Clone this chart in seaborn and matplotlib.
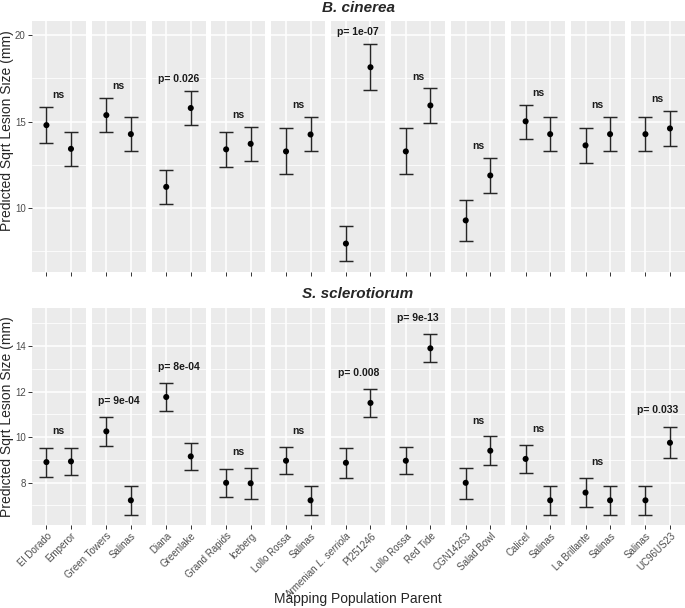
import numpy as np
import pandas as pd
import matplotlib
matplotlib.use("Agg")
import matplotlib.pyplot as plt
from matplotlib.ticker import FixedLocator
from matplotlib.transforms import ScaledTranslation
import seaborn as sns

# mapping population parents, one pair per panel
parent_a = ["El Dorado", "Green Towers", "Diana", "Grand Rapids", "Lollo Rossa",
            "Armenian L. serriola", "Lollo Rossa", "CGN14263", "Calicel", "La Brillante", "Salinas"]
parent_b = ["Emperor", "Salinas", "Greenlake", "Iceberg", "Salinas",
            "PI251246", "Red Tide", "Salad Bowl", "Salinas", "Salinas", "UC96US23"]

# B. cinerea
bc_mean_a = [14.80, 15.38, 11.23, 13.40, 13.28, 7.95, 13.28, 9.29, 15.02, 13.63, 14.28]
bc_lo_a = [13.78, 14.40, 10.23, 12.39, 11.97, 6.95, 11.97, 8.10, 14.01, 12.60, 13.28]
bc_hi_a = [15.85, 16.37, 12.22, 14.38, 14.61, 8.94, 14.61, 10.46, 15.98, 14.65, 15.27]
bc_mean_b = [13.43, 14.28, 15.79, 13.72, 14.26, 18.15, 15.94, 11.89, 14.28, 14.28, 14.61]
bc_lo_b = [12.45, 13.28, 14.80, 12.72, 13.28, 16.85, 14.94, 10.87, 13.28, 13.28, 13.59]
bc_hi_b = [14.42, 15.27, 16.79, 14.71, 15.27, 19.52, 16.93, 12.91, 15.27, 15.27, 15.61]
bc_pval = ["ns", "ns", "p= 0.026", "ns", "ns", "p= 1e-07", "ns", "ns", "ns", "ns", "ns"]
bc_pval_y = [16.52, 17.06, 17.45, 15.38, 15.94, 20.18, 17.60, 13.59, 16.68, 15.94, 16.33]

# S. sclerotiorum
ss_mean_a = [8.90, 10.25, 11.76, 7.99, 8.96, 8.87, 8.96, 7.99, 9.04, 7.56, 7.22]
ss_lo_a = [8.25, 9.60, 11.15, 7.37, 8.37, 8.22, 8.38, 7.29, 8.41, 6.91, 6.57]
ss_hi_a = [9.54, 10.88, 12.38, 8.59, 9.56, 9.51, 9.56, 8.66, 9.66, 8.22, 7.85]
ss_mean_b = [8.93, 7.22, 9.15, 7.97, 7.22, 11.50, 13.90, 9.40, 7.22, 7.22, 9.75]
ss_lo_b = [8.35, 6.57, 8.54, 7.28, 6.57, 10.90, 13.28, 8.79, 6.57, 6.57, 9.06]
ss_hi_b = [9.54, 7.85, 9.74, 8.63, 7.85, 12.10, 14.53, 10.03, 7.85, 7.85, 10.44]
ss_pval = ["ns", "p= 9e-04", "p= 8e-04", "ns", "ns", "p= 0.008", "p= 9e-13", "ns", "ns", "ns", "p= 0.033"]
ss_pval_y = [10.25, 11.60, 13.10, 9.34, 10.25, 12.82, 15.25, 10.72, 10.37, 8.91, 11.18]


def make_df(mean_a, lo_a, hi_a, mean_b, lo_b, hi_b):
    n = len(parent_a)
    return pd.DataFrame({
        "panel": list(range(n)) * 2,
        "pos": [0] * n + [1] * n,
        "parent": parent_a + parent_b,
        "mean": mean_a + mean_b,
        "lo": lo_a + lo_b,
        "hi": hi_a + hi_b,
    })


bc = make_df(bc_mean_a, bc_lo_a, bc_hi_a, bc_mean_b, bc_lo_b, bc_hi_b)
ss = make_df(ss_mean_a, ss_lo_a, ss_hi_a, ss_mean_b, ss_lo_b, ss_hi_b)

sns.set_theme(style="darkgrid")
plt.rcParams['font.family'] = ['Liberation Sans', 'DejaVu Sans']

W, H = 685, 608
fig = plt.figure(figsize=(W / 100, H / 100), dpi=100)
renderer = fig.canvas.get_renderer()

TICK_FS = 7.0
TICK_PAD = 1.5
TICK_OFF = (2.75 + TICK_PAD) / 72  # tick length + pad, inches


def species_label(ax, x, upright, italic):
    # "Armenian" upright followed by italic "L. serriola", laid out along 45 degrees
    base = ax.get_xaxis_transform()
    kw = dict(rotation=45, ha="right", va="top", rotation_mode="anchor",
              fontsize=TICK_FS, color="#4D4D4D")
    ax.text(x, 0, italic, fontstyle="italic",
            transform=base + ScaledTranslation(0, -TICK_OFF, fig.dpi_scale_trans), **kw)
    tmp = fig.text(0, 0, italic, fontsize=TICK_FS, fontstyle="italic")
    w = tmp.get_window_extent(renderer).width / fig.dpi + 0.278 * TICK_FS / 72
    tmp.remove()
    d = w / np.sqrt(2)
    ax.text(x, 0, upright,
            transform=base + ScaledTranslation(-d, -TICK_OFF - d, fig.dpi_scale_trans), **kw)


def draw_row(df, pvals, pval_y, y_top, y_bot, major, minor, show_x):
    vals = np.concatenate([df["lo"].values, df["hi"].values, pval_y])
    lo, hi = vals.min(), vals.max()
    pad = (hi - lo) * 0.05
    for i in range(len(parent_a)):
        ax = fig.add_axes([(31.7 + i * 59.9) / W, 1 - y_bot / H, 54 / W, (y_bot - y_top) / H])
        ax.set_facecolor("#EBEBEB")
        sub = df[df.panel == i]
        ax.errorbar(sub["pos"], sub["mean"],
                    yerr=[sub["mean"] - sub["lo"], sub["hi"] - sub["mean"]],
                    fmt="none", ecolor="#262626", elinewidth=1.05, capsize=4.8, capthick=1.05, zorder=2)
        sns.scatterplot(data=sub, x="pos", y="mean", color="black", s=19,
                        edgecolor="none", ax=ax, zorder=3)
        ax.text(0.5, pval_y[i], pvals[i], ha="center", va="center",
                fontsize=7.5, fontweight="bold", color="#1a1a1a")
        ax.set_xlim(-0.6, 1.6)
        ax.set_ylim(lo - pad, hi + pad)
        ax.set_xlabel("")
        ax.set_ylabel("")
        ax.set_xticks([0, 1])
        ax.yaxis.set_major_locator(FixedLocator(major))
        ax.yaxis.set_minor_locator(FixedLocator(minor))
        ax.grid(which="major", color="white", lw=1.1)
        ax.grid(which="minor", axis="y", color="white", lw=0.55)
        ax.set_axisbelow(True)
        for s in ax.spines.values():
            s.set_visible(False)
        ax.tick_params(which="major", length=2.75, width=0.7, color="#333333",
                       labelsize=7, labelcolor="#4D4D4D", pad=1.5, bottom=True, left=True)
        ax.tick_params(axis="x", pad=TICK_PAD)
        ax.tick_params(which="minor", length=0)
        if i > 0:
            ax.tick_params(axis="y", left=False, labelleft=False)
        if show_x:
            names = [parent_a[i], parent_b[i]]
            shown = ["" if n.startswith("Armenian") else n for n in names]
            ax.set_xticklabels(shown, rotation=45, ha="right",
                               rotation_mode="anchor", fontsize=TICK_FS)
            for k, n in enumerate(names):
                if n.startswith("Armenian"):
                    species_label(ax, k, "Armenian", "L. serriola")
        else:
            ax.tick_params(axis="x", labelbottom=False)


draw_row(bc, bc_pval, bc_pval_y, 20.7, 272.3, [10, 15, 20], [7.5, 12.5, 17.5], False)
draw_row(ss, ss_pval, ss_pval_y, 307.7, 525, [8, 10, 12, 14], [7, 9, 11, 13, 15], True)

fig.text(358 / W, 1 - 8 / H, "B. cinerea", ha="center", va="center",
         fontsize=11, fontweight="bold", fontstyle="italic")
fig.text(358 / W, 1 - 294 / H, "S. sclerotiorum", ha="center", va="center",
         fontsize=11, fontweight="bold", fontstyle="italic")
fig.text(7 / W, 1 - 131 / H, "Predicted Sqrt Lesion Size (mm)", rotation=90,
         ha="center", va="center", fontsize=10)
fig.text(7 / W, 1 - 417 / H, "Predicted Sqrt Lesion Size (mm)", rotation=90,
         ha="center", va="center", fontsize=10)
fig.text(358 / W, 1 - 599 / H, "Mapping Population Parent", ha="center", va="center", fontsize=10)

fig.savefig("out.png", dpi=100)
